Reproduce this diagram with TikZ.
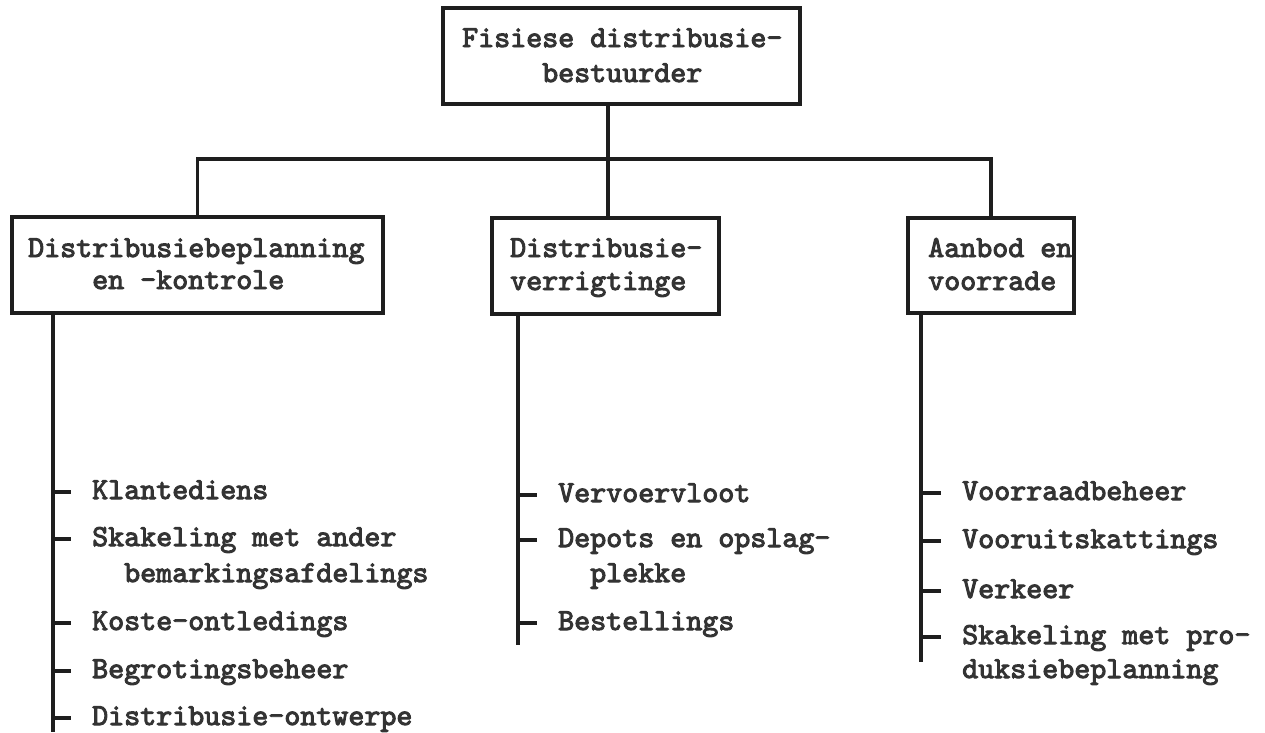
\documentclass[tikz,border=0pt]{standalone}
\usepackage{fontspec}
\newfontfamily\tw{lmmono10-regular.otf}[FakeBold=3.2]
\definecolor{ink}{HTML}{1E1E1E}
\definecolor{typeink}{HTML}{333333}
\tikzset{
  box/.style={draw=ink, line width=3.2pt, inner sep=0pt},
  wire/.style={draw=ink, line width=3.2pt},
  lbl/.style={inner sep=0pt, anchor=base west, text=typeink,
              font=\tw\fontsize{30.5pt}{34pt}\selectfont},
}
% two typed lines; the node baseline is that of the first line
\newcommand\twolines[3][34pt]{\vtop{\baselineskip=#1\hbox{#2}\hbox{#3}}}
% indent by a number of typewriter characters
\newcommand\ind[1]{\hspace*{\numexpr#1*16\relax pt}}
% a short tick from a spine to a list item
\newcommand\branch[2]{%
  \path (#1.base west) ++(0,-7) coordinate (#1-tick);
  \draw[wire] (#1-tick -| #2) -- ([xshift=-21pt]#1-tick);}
\begin{document}
\begin{tikzpicture}[x=1pt,y=-1pt]
\useasboundingbox (0,0) rectangle (1265,732);

% boxes
\node[box, minimum width=357pt, minimum height=96pt] (head)   at (621.5,56) {};
\node[box, minimum width=371pt, minimum height=96pt] (plan)   at (197.5,265) {};
\node[box, minimum width=227pt, minimum height=96pt] (ops)    at (605.5,266) {};
\node[box, minimum width=166pt, minimum height=95pt] (supply) at (991,265.5) {};

% box texts
\node[lbl] (head-t)   at (462,47)  {\twolines[35pt]{Fisiese distribusie-}{\ind{5}bestuurder}};
\node[lbl] (plan-t)   at (28,257)  {\twolines[32pt]{Distribusiebeplanning}{\ind{4}en -kontrole}};
\node[lbl] (ops-t)    at (510,257) {\twolines[33pt]{Distribusie-}{verrigtinge}};
\node[lbl] (supply-t) at (928,257) {\twolines[33pt]{Aanbod en}{voorrade}};

% tree connectors
\coordinate (bus) at (608,159);
\draw[wire] (head.south -| bus) -- (bus);
\draw[wire] (plan.north) |- (bus) -| (supply.north);
\draw[wire] (bus) -- (bus |- ops.north);

% spines
\coordinate (lspine) at (53,732);
\coordinate (mspine) at (518,645);
\coordinate (rspine) at (921,662);
\draw[wire] (plan.south -| lspine) -- (lspine);
\draw[wire] (ops.south -| mspine) -- (mspine);
\draw[wire] (supply.south -| rspine) -- (rspine);

% left list
\node[lbl] (kl) at (92,499) {Klantediens};
\node[lbl] (sk) at (92,546) {\twolines[36pt]{Skakeling met ander}{\ind{2}bemarkingsafdelings}};
\node[lbl] (ko) at (92,630) {Koste-ontledings};
\node[lbl] (bg) at (92,678) {Begrotingsbeheer};
\node[lbl] (do) at (92,725) {Distribusie-ontwerpe};
\foreach \n in {kl,sk,ko,bg,do} {\branch{\n}{lspine}}

% middle list
\node[lbl] (vv) at (558,502) {Vervoervloot};
\node[lbl] (dp) at (558,547) {\twolines[35pt]{Depots en opslag-}{\ind{2}plekke}};
\node[lbl] (bs) at (558,630) {Bestellings};
\foreach \n in {vv,dp,bs} {\branch{\n}{mspine}}

% right list
\node[lbl] (vb) at (962,500) {Voorraadbeheer};
\node[lbl] (vu) at (962,548) {Vooruitskattings};
\node[lbl] (vk) at (962,598) {Verkeer};
\node[lbl] (sp) at (962,644) {\twolines[34pt]{Skakeling met pro-}{duksiebeplanning}};
\foreach \n in {vb,vu,vk,sp} {\branch{\n}{rspine}}
\end{tikzpicture}
\end{document}
